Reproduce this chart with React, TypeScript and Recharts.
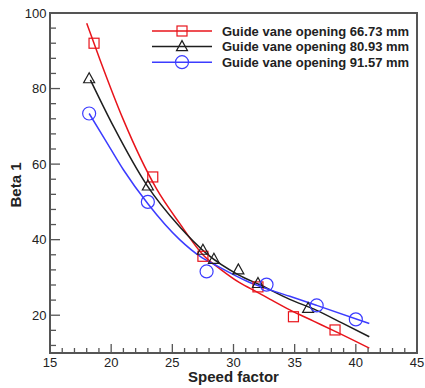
import { ComposedChart, Line, Scatter, XAxis, YAxis, ReferenceArea } from 'recharts'

const RED = '#e8141b'
const BLACK = '#1e1e1e'
const BLUE = '#3c3cff'
const FRAME = '#555'
const FONT = '"Liberation Sans", Arial, sans-serif'

// measured points
const red66 = [
  { x: 18.6, y: 92.0 }, { x: 23.4, y: 56.6 }, { x: 27.5, y: 35.6 },
  { x: 32.0, y: 27.5 }, { x: 34.9, y: 19.6 }, { x: 38.3, y: 16.1 },
]
const black80 = [
  { x: 18.2, y: 82.6 }, { x: 23.0, y: 54.2 }, { x: 27.5, y: 37.2 }, { x: 28.4, y: 34.8 },
  { x: 30.4, y: 32.0 }, { x: 32.0, y: 28.4 }, { x: 36.1, y: 21.8 },
]
const blue91 = [
  { x: 18.2, y: 73.4 }, { x: 23.0, y: 50.0 }, { x: 27.8, y: 31.6 },
  { x: 32.7, y: 28.1 }, { x: 36.8, y: 22.6 }, { x: 40.0, y: 18.9 },
]

// fitted curves
const redFit = [
  { x: 18.0, y: 97.3 }, { x: 19.1, y: 87.5 }, { x: 21.0, y: 71.7 }, { x: 23.7, y: 53.5 },
  { x: 25.6, y: 44.3 }, { x: 27.5, y: 36.0 }, { x: 29.0, y: 32.0 }, { x: 30.5, y: 28.6 },
  { x: 32.0, y: 26.0 }, { x: 33.0, y: 24.2 }, { x: 34.6, y: 21.4 }, { x: 36.5, y: 18.5 },
  { x: 38.4, y: 15.6 }, { x: 41.1, y: 11.3 },
]
const blackFit = [
  { x: 18.3, y: 82.3 }, { x: 20.2, y: 69.9 }, { x: 22.9, y: 54.5 }, { x: 25.6, y: 43.4 },
  { x: 27.8, y: 36.3 }, { x: 30.4, y: 30.7 }, { x: 32.2, y: 28.0 }, { x: 34.6, y: 24.2 },
  { x: 36.8, y: 21.3 }, { x: 38.9, y: 17.9 }, { x: 41.1, y: 14.3 },
]
const blueFit = [
  { x: 18.2, y: 73.4 }, { x: 19.5, y: 66.5 }, { x: 21.0, y: 58.5 }, { x: 23.0, y: 49.5 },
  { x: 25.6, y: 40.0 }, { x: 27.3, y: 35.5 }, { x: 28.4, y: 33.5 }, { x: 31.1, y: 29.0 },
  { x: 33.0, y: 26.7 }, { x: 34.6, y: 25.0 }, { x: 36.8, y: 22.6 }, { x: 41.1, y: 17.8 },
]

const xTicks = [15, 16, 17, 18, 19, 20, 21, 22, 23, 24, 25, 26, 27, 28, 29, 30, 31, 32, 33, 34, 35, 36, 37, 38, 39, 40, 41, 42, 43, 44, 45]
const xLabels = [15, 20, 25, 30, 35, 40, 45]
const yTicks = [12, 16, 20, 24, 28, 32, 36, 40, 44, 48, 52, 56, 60, 64, 68, 72, 76, 80, 84, 88, 92, 96, 100]
const yLabels = [20, 40, 60, 80, 100]

const legendItems = [
  { name: 'Guide vane opening 66.73 mm', color: RED, mark: 'square' },
  { name: 'Guide vane opening 80.93 mm', color: BLACK, mark: 'triangle' },
  { name: 'Guide vane opening 91.57 mm', color: BLUE, mark: 'circle' },
]

function Mark({ kind, cx, cy, color }: { kind: string; cx: number; cy: number; color: string }) {
  if (kind === 'square')
    return <rect x={cx - 5} y={cy - 5} width={10} height={10} fill="none" stroke={color} strokeWidth={1.2} />
  if (kind === 'triangle')
    return <polygon points={`${cx},${cy - 6} ${cx - 5.5},${cy + 4} ${cx + 5.5},${cy + 4}`} fill="none" stroke={color} strokeWidth={1.2} />
  return <circle cx={cx} cy={cy} r={6.5} fill="none" stroke={color} strokeWidth={1.2} />
}

const XTick = ({ x, y, payload }: any) => {
  const major = xLabels.includes(payload.value)
  return (
    <g>
      <line x1={x} x2={x} y1={y} y2={y - (major ? 9 : 5)} stroke={FRAME} strokeWidth={1.3} />
      {major && (
        <text x={x} y={y + 13.5} textAnchor="middle" fontSize={13} fontFamily={FONT} fill="#222">{payload.value}</text>
      )}
    </g>
  )
}

const YTick = ({ x, y, payload }: any) => {
  const major = yLabels.includes(payload.value)
  return (
    <g>
      <line x1={x} x2={x + (major ? 10 : 6)} y1={y} y2={y} stroke={FRAME} strokeWidth={1.3} />
      {major && (
        <text x={x - 3.5} y={y + 4.6} textAnchor="end" fontSize={13} fontFamily={FONT} fill="#222">{payload.value}</text>
      )}
    </g>
  )
}

export default function App() {
  return (
    <div style={{ position: 'absolute', left: 0, top: 0, width: 425, height: 388 }}>
      <ComposedChart width={425} height={388} margin={{ top: 13, right: 8, bottom: 0, left: 0 }}>
        <XAxis type="number" dataKey="x" domain={[15, 45]} ticks={xTicks} interval={0} height={35}
          tickSize={0} tickMargin={0} tickLine={false} axisLine={false} tick={<XTick />} allowDataOverflow />
        <YAxis type="number" dataKey="y" domain={[10, 100]} ticks={yTicks} interval={0} width={50}
          tickSize={0} tickMargin={0} tickLine={false} axisLine={false} tick={<YTick />} allowDataOverflow />
        <ReferenceArea x1={15} x2={45} y1={10} y2={100} fill="none" stroke={FRAME} strokeWidth={2} fillOpacity={0} />
        <Line data={redFit} dataKey="y" type="monotone" stroke={RED} strokeWidth={1.5} dot={false} isAnimationActive={false} />
        <Line data={blackFit} dataKey="y" type="monotone" stroke={BLACK} strokeWidth={1.5} dot={false} isAnimationActive={false} />
        <Line data={blueFit} dataKey="y" type="monotone" stroke={BLUE} strokeWidth={1.5} dot={false} isAnimationActive={false} />
        <Scatter data={red66} dataKey="y" isAnimationActive={false}
          shape={(p: any) => <Mark kind="square" cx={p.cx} cy={p.cy} color={RED} />} />
        <Scatter data={black80} dataKey="y" isAnimationActive={false}
          shape={(p: any) => <Mark kind="triangle" cx={p.cx} cy={p.cy} color={BLACK} />} />
        <Scatter data={blue91} dataKey="y" isAnimationActive={false}
          shape={(p: any) => <Mark kind="circle" cx={p.cx} cy={p.cy} color={BLUE} />} />
      </ComposedChart>
      <svg width={425} height={388} style={{ position: 'absolute', left: 0, top: 0, pointerEvents: 'none' }}>
        {legendItems.map((it, i) => {
          const cy = 31 + i * 15.6
          return (
            <g key={it.name}>
              <line x1={152} x2={212} y1={cy} y2={cy} stroke={it.color} strokeWidth={1.5} />
              <Mark kind={it.mark} cx={182} cy={cy} color={it.color} />
              <text x={222} y={cy + 4.6} fontSize={13} fontWeight="bold" fontFamily={FONT} fill="#222">{it.name}</text>
            </g>
          )
        })}
        <text x={233.5} y={382} textAnchor="middle" fontSize={15} fontWeight="bold" fontFamily={FONT} fill="#222">Speed factor</text>
        <text x={0} y={0} transform="translate(21,185) rotate(-90)" textAnchor="middle" fontSize={15} fontWeight="bold" fontFamily={FONT} fill="#222">Beta 1</text>
      </svg>
    </div>
  )
}
